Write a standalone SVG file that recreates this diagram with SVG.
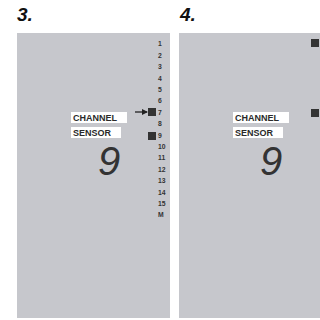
<svg xmlns="http://www.w3.org/2000/svg" width="320" height="320" viewBox="0 0 320 320">
<style>
.panel{fill:#c6c7cc}
.title{font-family:"Liberation Sans",Arial,sans-serif;font-weight:bold;font-style:italic;font-size:19px;fill:#111}
.lbl{fill:#fff}
.lt{font-family:"Liberation Sans",Arial,sans-serif;font-weight:bold;font-size:9px;fill:#2a2a2a}
.num{font-family:"Liberation Sans",Arial,sans-serif;font-weight:bold;font-size:6.8px;fill:#333}
.dig{font-family:"Liberation Sans",Arial,sans-serif;font-style:italic;font-size:40px;fill:#333}
.sq{fill:#333}
</style>
<defs>
<marker id="ah" markerWidth="6" markerHeight="6" refX="5" refY="3" orient="auto" markerUnits="userSpaceOnUse">
<path d="M0,0 L6,3 L0,6 Z" fill="#222"/>
</marker>
</defs>
<g id="panel3">
<text class="title" x="17" y="21">3.</text>
<rect class="panel" x="17" y="33" width="153" height="285"/>
<rect class="lbl" x="71" y="112" width="56" height="11"/>
<text class="lt" x="73" y="121">CHANNEL</text>
<rect class="lbl" x="71" y="127" width="50" height="11"/>
<text class="lt" x="73" y="136">SENSOR</text>
<text class="dig" x="98" y="175">9</text>
<g id="list3">
<text class="num" x="158" y="46.3">1</text>
<text class="num" x="158" y="57.7">2</text>
<text class="num" x="158" y="69.1">3</text>
<text class="num" x="158" y="80.5">4</text>
<text class="num" x="158" y="91.9">5</text>
<text class="num" x="158" y="103.3">6</text>
<text class="num" x="158" y="114.7">7</text>
<text class="num" x="158" y="126.1">8</text>
<text class="num" x="158" y="137.5">9</text>
<text class="num" x="158" y="148.9">10</text>
<text class="num" x="158" y="160.3">11</text>
<text class="num" x="158" y="171.7">12</text>
<text class="num" x="158" y="183.1">13</text>
<text class="num" x="158" y="194.5">14</text>
<text class="num" x="158" y="205.9">15</text>
<text class="num" x="158" y="217.3">M</text>
</g>
<rect class="sq" x="148" y="108" width="8" height="8"/>
<rect class="sq" x="148" y="132" width="8" height="8"/>
</g>
<g id="panel4">
<text class="title" x="180" y="21">4.</text>
<rect class="panel" x="179" y="33" width="141" height="285"/>
<rect class="lbl" x="233" y="112" width="56" height="11"/>
<text class="lt" x="235" y="121">CHANNEL</text>
<rect class="lbl" x="233" y="127" width="50" height="11"/>
<text class="lt" x="235" y="136">SENSOR</text>
<text class="dig" x="260" y="175">9</text>
<rect class="sq" x="311" y="39" width="8" height="8"/>
<rect class="sq" x="311" y="109" width="8" height="8"/>
</g>
<g id="connectors">
<line x1="135" y1="112" x2="147" y2="112" stroke="#222" stroke-width="1.3" marker-end="url(#ah)"/>
</g>
</svg>
